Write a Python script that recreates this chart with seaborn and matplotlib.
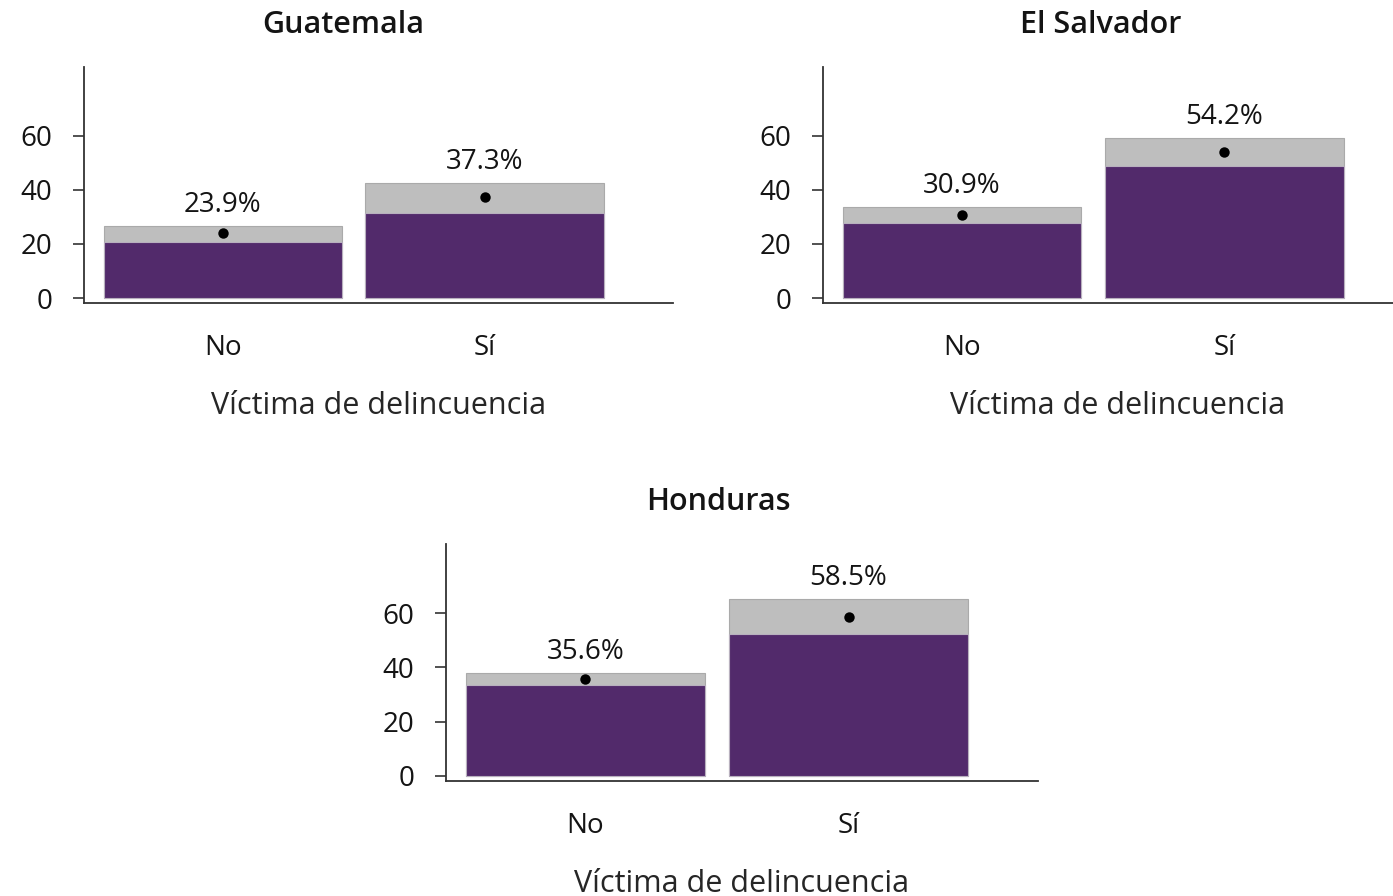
import pandas as pd
import matplotlib
matplotlib.use("Agg")
import matplotlib.pyplot as plt
import seaborn as sns

# values (percent)
countries = ["Guatemala", "El Salvador", "Honduras"]
categories = ["No", "Sí"]
means = [[23.9, 37.3], [30.9, 54.2], [35.6, 58.5]]
lower = [[20.7, 31.5], [27.8, 48.9], [33.7, 52.2]]
upper = [[26.7, 42.6], [33.7, 59.3], [38.1, 65.2]]
yticks = [0, 20, 40, 60]

rows = []
for c, m, lo, hi in zip(countries, means, lower, upper):
    for k, cat in enumerate(categories):
        rows.append({"pais": c, "victima": cat, "media": m[k], "lo": lo[k], "hi": hi[k]})
df = pd.DataFrame(rows)

sns.set_style("ticks")
plt.rcParams["font.family"] = ["Open Sans", "DejaVu Sans"]
plt.rcParams["text.color"] = "#141414"
plt.rcParams["xtick.color"] = "#141414"
plt.rcParams["ytick.color"] = "#141414"

PURPLE = "#522A6B"
GRAY = "#BEBEBE"

W, H = 1393, 896
fig = plt.figure(figsize=(W / 100, H / 100), dpi=100)

# axes boxes in pixels: left, top, right, bottom
boxes = [(84, 67, 673, 303), (823, 67, 1413, 303), (446, 544, 1038, 781)]
title_pos = [(343, 25), (1101, 25), (718, 502)]

for pais, (l, t, r, b), (tx, ty) in zip(countries, boxes, title_pos):
    ax = fig.add_axes([l / W, 1 - b / H, (r - l) / W, (b - t) / H])
    sub = df[df["pais"] == pais]

    # gray bar = upper bound, purple bar = lower bound, dot = estimate
    sns.barplot(data=sub, x="victima", y="hi", color=GRAY, width=0.91,
                saturation=1, edgecolor="#AAAAAA", linewidth=0.8, ax=ax)
    sns.barplot(data=sub, x="victima", y="lo", color=PURPLE, width=0.91,
                saturation=1, edgecolor="#B8B0BE", linewidth=0.8, ax=ax)
    sns.stripplot(data=sub, x="victima", y="media", color="black", jitter=False,
                  size=7.5, ax=ax, zorder=5)

    for i, (m, hi) in enumerate(zip(sub["media"], sub["hi"])):
        ax.annotate(f"{m:.1f}%", (i, hi), xytext=(0, 15), textcoords="offset points",
                    ha="center", va="center", fontsize=20)

    ax.set_xlim(-0.53, 1.72)
    ax.set_ylim(-1.85, 85.5)
    ax.set_yticks(yticks)
    ax.set_ylabel("")
    ax.set_xlabel("Víctima de delincuencia", fontsize=22, labelpad=21)
    ax.tick_params(axis="y", labelsize=20, length=8, width=1.2, color="#333333", pad=15)
    ax.tick_params(axis="x", labelsize=20, length=0, pad=22)
    for s in ["top", "right"]:
        ax.spines[s].set_visible(False)
    for s in ["left", "bottom"]:
        ax.spines[s].set_linewidth(1.3)
        ax.spines[s].set_color("#333333")

    fig.text(tx / W, 1 - ty / H, pais, ha="center", va="center",
             fontsize=22, fontweight="semibold")

fig.savefig("out.png", dpi=100, facecolor="white")
